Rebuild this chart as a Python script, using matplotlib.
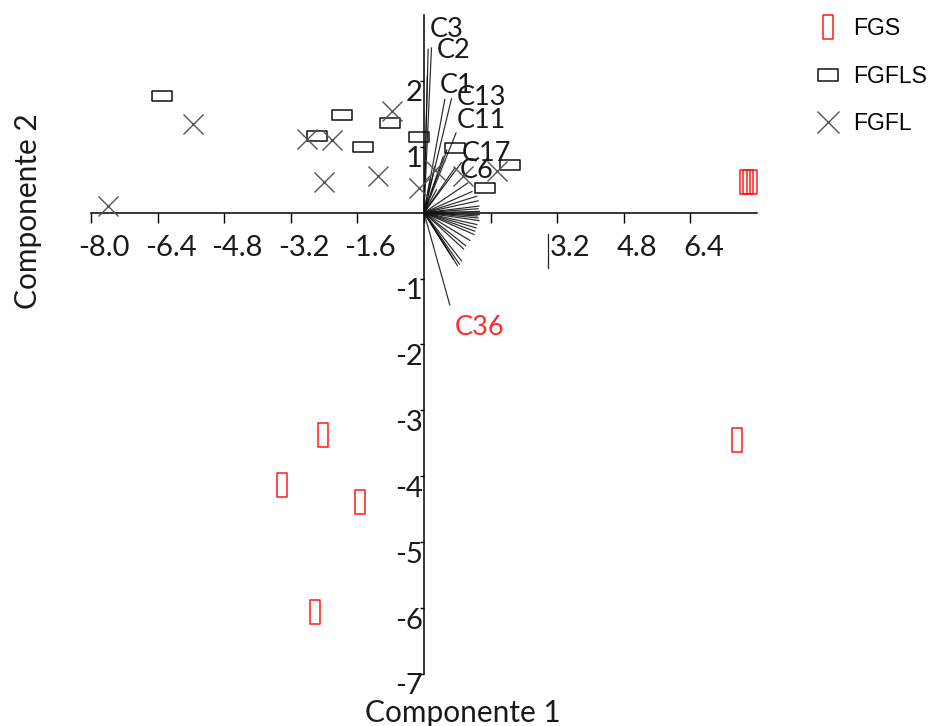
import matplotlib
matplotlib.use('Agg')
import matplotlib.pyplot as plt
from matplotlib.path import Path
from matplotlib.lines import Line2D
from matplotlib.transforms import ScaledTranslation

# PCA scores for each group
fgs_x = [-2.43, -3.42, -1.54, -2.62, 7.53, 7.70, 7.78, 7.87]
fgs_y = [-3.38, -4.13, -4.39, -6.06, -3.45, 0.46, 0.46, 0.46]
fgfls_x = [-6.30, -1.97, -2.57, -1.46, -0.82, -0.13, 0.75, 2.06, 1.47]
fgfls_y = [1.77, 1.49, 1.16, 1.00, 1.36, 1.15, 0.98, 0.73, 0.37]
fgfl_x = [-7.60, -5.54, -2.80, -2.22, -0.78, -2.40, -1.11, -0.13, 0.26, 0.94, 1.76]
fgfl_y = [0.10, 1.34, 1.12, 1.10, 1.55, 0.47, 0.56, 0.37, 0.65, 0.55, 0.63]

# variable loadings (scaled), labelled ones first
named_vars = ['C3', 'C2', 'C1', 'C13', 'C11', 'C17', 'C6', 'C36']
named_x = [0.18, 0.10, 0.50, 0.66, 0.77, 0.90, 0.74, 0.62]
named_y = [2.50, 2.48, 1.72, 1.73, 1.21, 0.76, 0.68, -1.40]
other_x = [0.08, 0.46, 0.26, 0.55, 1.05, 0.30, 0.15,
           1.27, 1.30, 1.32, 1.30, 1.33, 1.33, 1.30, 1.32, 1.27, 1.25, 1.22,
           1.20, 1.10, 1.00, 0.95, 0.90, 0.85, 0.80, 0.70, 0.60, 1.15, 1.28]
other_y = [2.07, 0.85, 0.70, 0.95, 0.45, 0.35, 0.50,
           0.25, 0.18, 0.10, 0.06, 0.02, -0.03, -0.08, -0.12, -0.18, -0.23, -0.28,
           -0.33, -0.42, -0.50, -0.55, -0.73, -0.78, -0.80, -0.70, -0.60, 0.32, -0.05]

xticks = [-8.0, -6.4, -4.8, -3.2, -1.6, 0.0, 1.6, 3.2, 4.8, 6.4]
xtick_labels = ['-8.0', '-6.4', '-4.8', '-3.2', '-1.6', '', '', '3.2', '4.8', '6.4']
yticks = [2, 1, -1, -2, -3, -4, -5, -6, -7]
ytick_labels = ['2', '1', '-1', '-2', '-3', '-4', '-5', '-6', '-7']

# where the variable names sit
label_pos = [(0.55, 2.78), (0.70, 2.46), (0.79, 1.93), (1.39, 1.745), (1.39, 1.40),
             (1.49, 0.895), (1.27, 0.64), (1.34, -1.745)]

font = 'Lato'
tick_fs = 21

tall_box = Path([(-0.44, -1), (0.44, -1), (0.44, 1), (-0.44, 1), (-0.44, -1)],
                closed=True)
wide_box = Path([(-1, -0.55), (1, -0.55), (1, 0.55), (-1, 0.55), (-1, -0.55)],
                closed=True)

fig = plt.figure(figsize=(9.34, 7.26), dpi=100)
ax = fig.add_axes([91 / 934, 1 - 674 / 726, 666 / 934, 659 / 726])
ax.set_xlim(-8, 8)
ax.set_ylim(-7, 3)

for s in ['top', 'right']:
    ax.spines[s].set_visible(False)
ax.spines['left'].set_position(('data', 0))
ax.spines['bottom'].set_position(('data', 0))
for s in ['left', 'bottom']:
    ax.spines[s].set_linewidth(1.1)
    ax.spines[s].set_zorder(1)

# loadings
for x, y in zip(other_x + named_x, other_y + named_y):
    ax.plot([0, x], [0, y], color='#111111', lw=0.85, alpha=0.9, zorder=2)

for name, (tx, ty) in zip(named_vars, label_pos):
    ax.text(tx, ty, name, ha='center', va='center', family=font, fontsize=19.5,
            color='#ff2a2a' if name == 'C36' else '#1a1a1a', zorder=3)

# scores
ax.plot(fgs_x, fgs_y, ls='none', marker=tall_box, ms=16.6, mfc='none',
        mec='#ff1a1a', mew=1.1, zorder=4, clip_on=False)
ax.plot(fgfls_x, fgfls_y, ls='none', marker=wide_box, ms=13.8, mfc='none',
        mec='#111111', mew=1.1, zorder=4, clip_on=False)
ax.plot(fgfl_x, fgfl_y, ls='none', marker='x', ms=14.4, color='#555555',
        mew=1.0, zorder=4, clip_on=False)

# stray cursor bar beside the 3.2 label
ax.plot([2.97, 2.97], [-0.33, -0.84], color='#222222', lw=0.9, zorder=3)

ax.set_xticks(xticks)
ax.set_xticklabels(xtick_labels)
ax.set_yticks(yticks)
ax.set_yticklabels(ytick_labels)
ax.tick_params(axis='x', direction='out', length=7.2, width=1.0, pad=9)
ax.tick_params(axis='y', direction='out', length=3, width=1.0, pad=-2)
for lab in ax.get_xticklabels():
    lab.set_family(font)
    lab.set_fontsize(tick_fs)
    lab.set_color('#1a1a1a')
    lab.set_transform(lab.get_transform() + ScaledTranslation(0.13, 0, fig.dpi_scale_trans))
for lab in ax.get_yticklabels():
    lab.set_family(font)
    lab.set_fontsize(tick_fs)
    lab.set_color('#1a1a1a')
    lab.set_transform(lab.get_transform() + ScaledTranslation(0, -0.10, fig.dpi_scale_trans))

fig.text(463 / 934, 1 - 713 / 726, 'Componente 1', ha='center', va='center',
         family=font, fontsize=21.5, color='#1a1a1a')
fig.text(28 / 934, 1 - 211 / 726, 'Componente 2', ha='center', va='center',
         rotation=90, family=font, fontsize=21.5, color='#1a1a1a')

handles = [
    Line2D([], [], ls='none', marker=tall_box, ms=16.6, mfc='none', mec='#ff1a1a', mew=1.1),
    Line2D([], [], ls='none', marker=wide_box, ms=15, mfc='none', mec='#111111', mew=1.1),
    Line2D([], [], ls='none', marker='x', ms=16, color='#555555', mew=1.0),
]
fig.legend(handles, ['FGS', 'FGFLS', 'FGFL'], loc='upper left',
           bbox_to_anchor=(812 / 934, 1 - 17 / 726), frameon=False,
           borderpad=0, borderaxespad=0, handlelength=1.4, handletextpad=0.4,
           labelspacing=1.08, prop={'family': 'Liberation Sans', 'size': 16.5})

fig.savefig('out.png', dpi=100)
